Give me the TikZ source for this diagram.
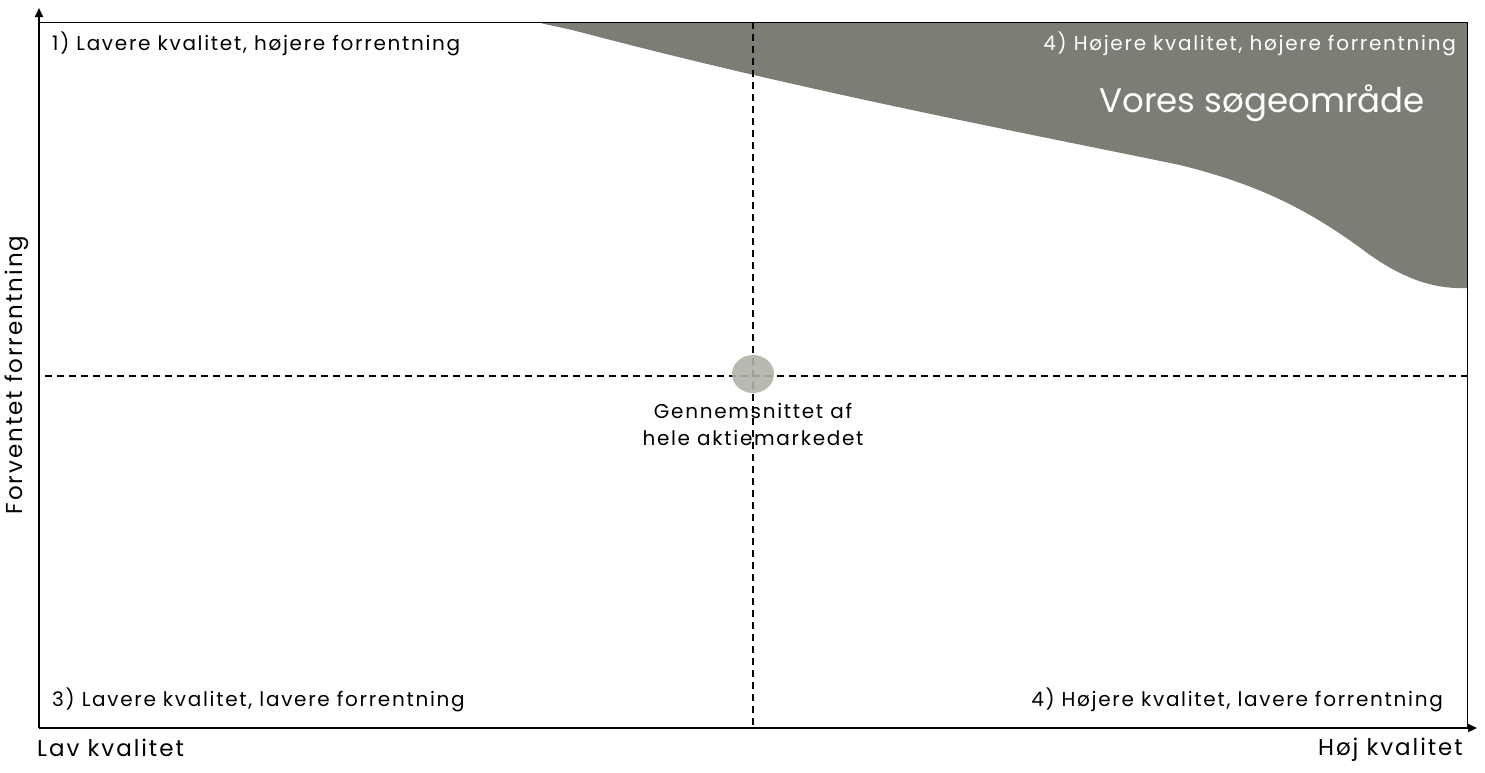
\documentclass[tikz,border=0pt]{standalone}
\usepackage{fontspec}
\setmainfont{Poppins}
\newfontfamily\spredt[LetterSpace=8.5]{Poppins}
\usetikzlibrary{arrows.meta}
\definecolor{soeg}{HTML}{7B7E74}
\definecolor{snit}{HTML}{B0B2A7}
\begin{document}
\begin{tikzpicture}[x=1pt,y=-1pt,
	quad/.style={font=\spredt\fontsize{20}{27}\selectfont,inner sep=0pt},
	aks/.style={font=\spredt\fontsize{23}{27}\selectfont,inner sep=0pt}]
		\useasboundingbox (0,0) rectangle (1485,772);
		\fill [soeg](540,22)--(1467,22)--(1467,288) .. controls (1440,289) and (1410,283) .. (1370,255) .. controls (1310,210) and (1260,185) .. (1180,165) .. controls (1000,128) and (800,90) .. (580,32) .. controls (552,25) and (540,24) .. (540,22);
		\draw [thin](39,22)--(1467,22)--(1467,728);
		\draw [dash pattern=on 7pt off 5pt,line width=1.4pt](753,22)--(753,728);
		\draw [dash pattern=on 7pt off 5pt,line width=1.4pt](45,376)--(1467,376);
		\coordinate (O) at (39,728);
		\coordinate (ytop) at (39,8);
		\coordinate (xend) at (1477,728);
		\draw [-{Triangle[length=9pt,width=8pt]},line width=2pt](O)--(ytop);
		\draw [-{Triangle[length=9pt,width=8pt]},line width=2pt](O)--(xend);
		\fill [snit,opacity=.9](753,374) ellipse [x radius=21,y radius=19];
		\node (midt) [quad,align=center] at (753,424){Gennemsnittet af\\hele aktiemarkedet};
		\node (q1) [quad,anchor=west] at (52,44){1) Lavere kvalitet, højere forrentning};
		\node (q2) [quad,anchor=east,white] at (1456,44){4) Højere kvalitet, højere forrentning};
		\node (soegomr) [anchor=east,white,font=\fontsize{34}{38}\selectfont,inner sep=0pt] at (1425,103){Vores søgeområde};
		\node (q3) [quad,anchor=west] at (52,700){3) Lavere kvalitet, lavere forrentning};
		\node (q4) [quad,anchor=east] at (1443,700){4) Højere kvalitet, lavere forrentning};
		\node (lav) [aks,anchor=west] at (37,748){Lav kvalitet};
		\node (hoej) [aks,anchor=east] at (1463,750){Høj kvalitet};
		\node (forr) [aks,rotate=90] at (17,375){Forventet forrentning};
		\end{tikzpicture}
\end{document}
